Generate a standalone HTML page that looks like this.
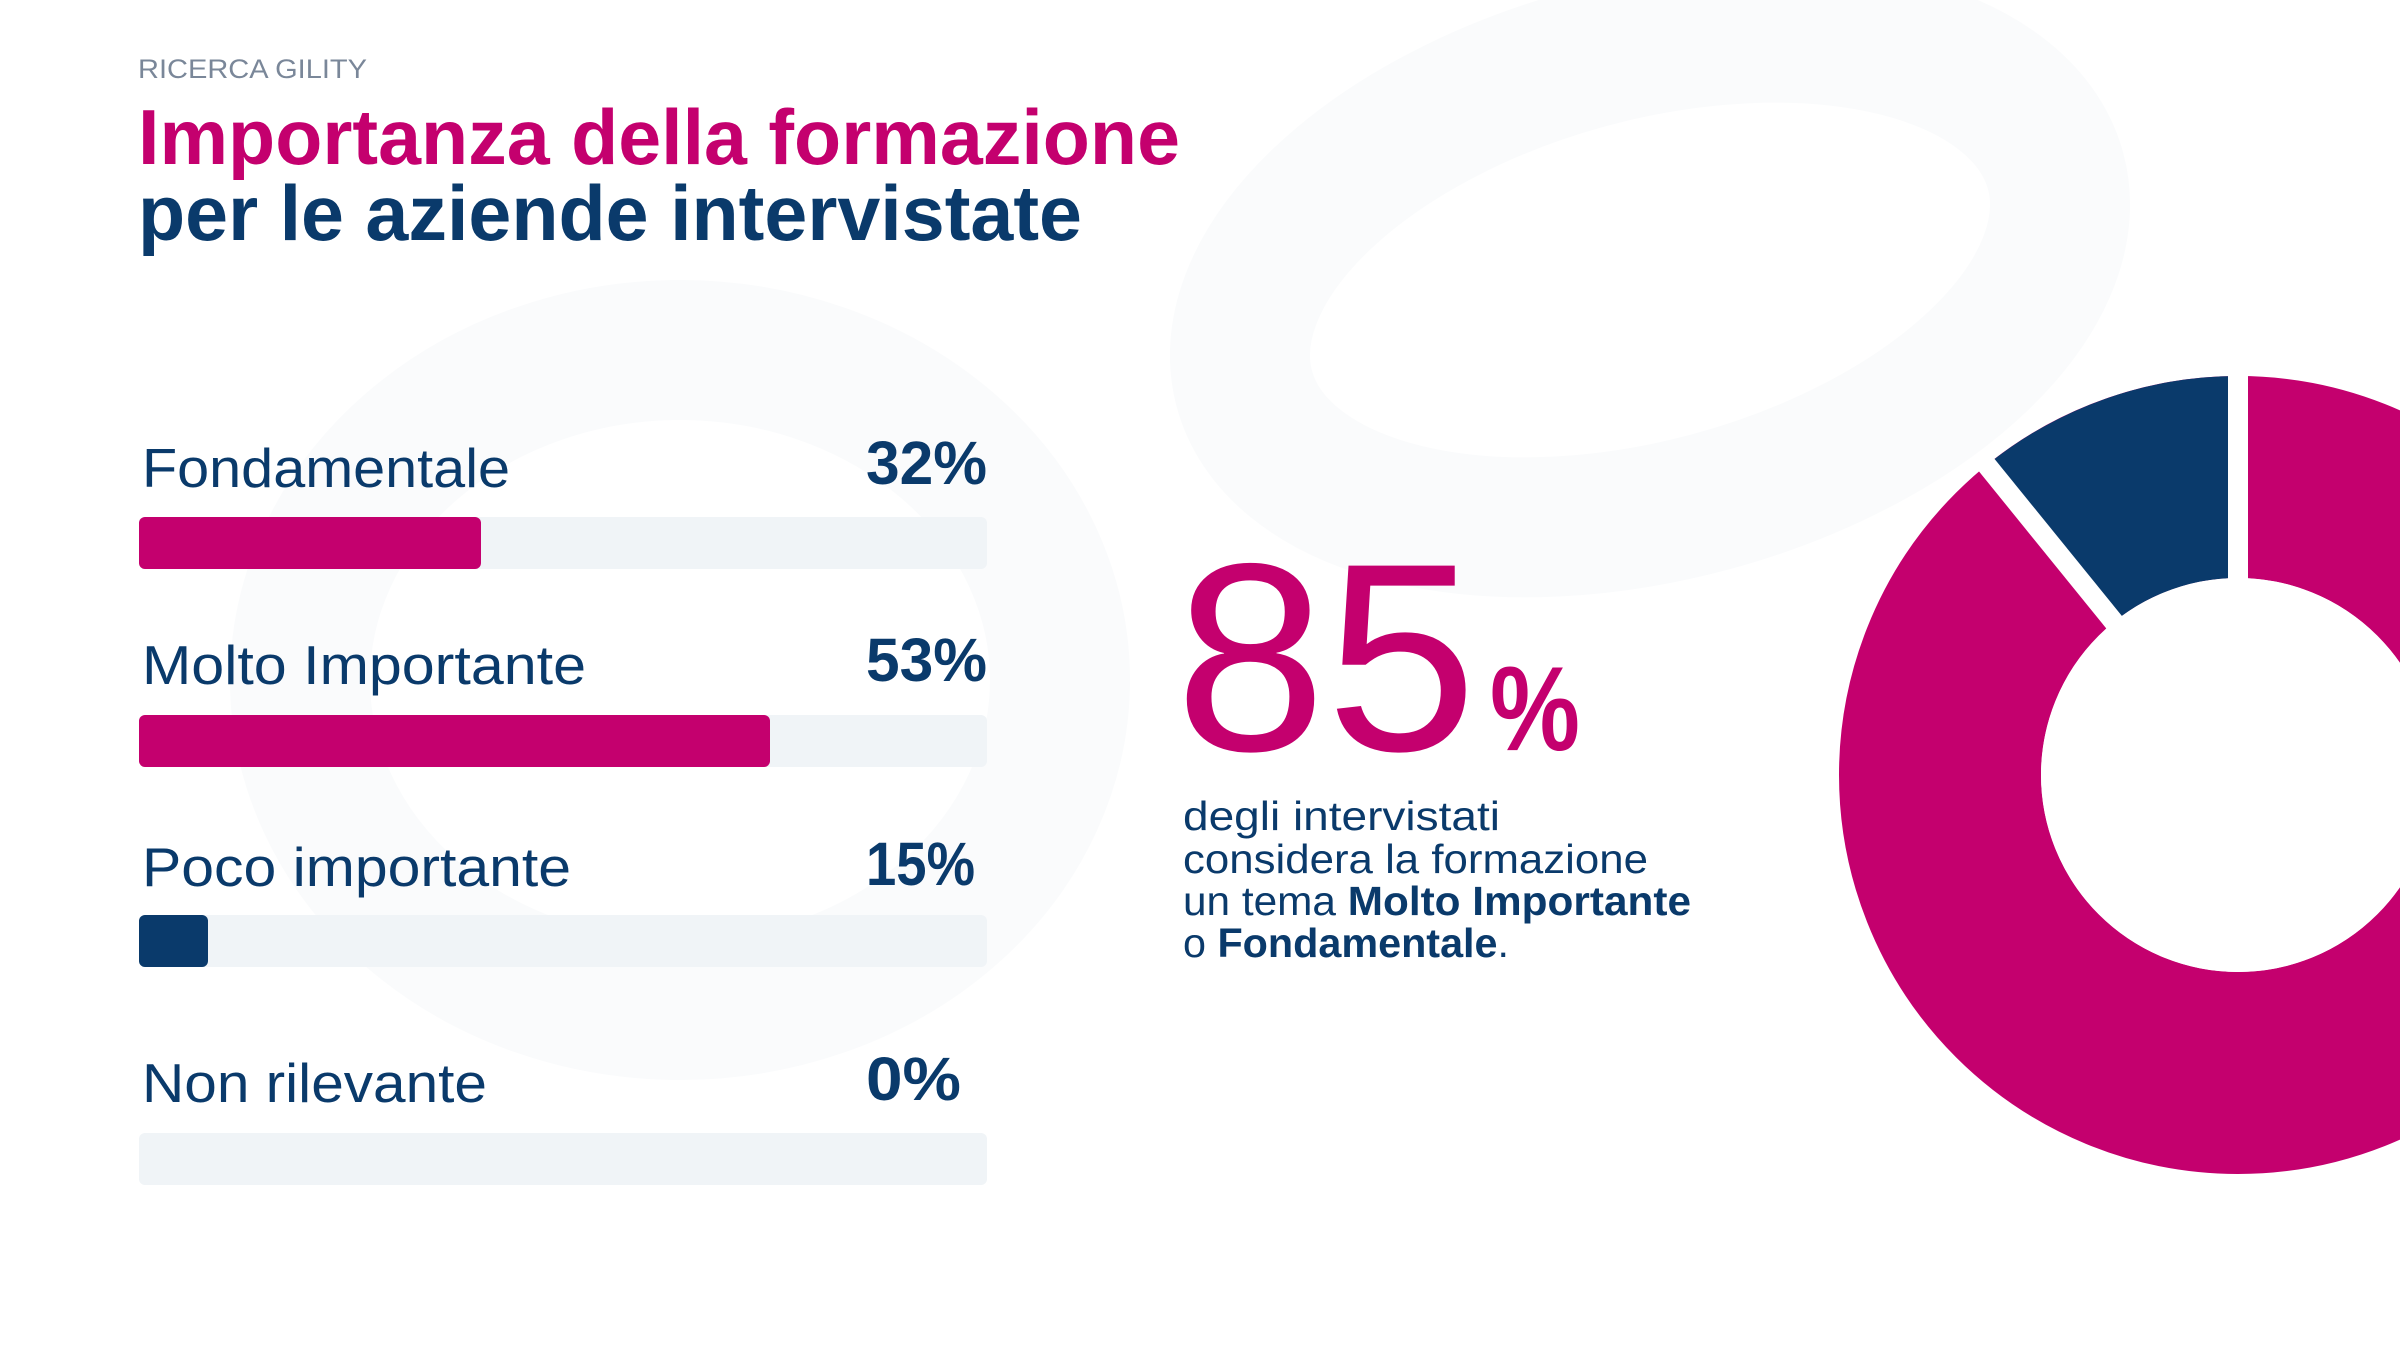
<!DOCTYPE html>
<html><head><meta charset="utf-8"><style>
html,body{margin:0;padding:0;background:#fff;width:2400px;height:1350px;overflow:hidden;}
svg{display:block;overflow:hidden;}
text{font-family:"Liberation Sans",sans-serif;}
</style></head><body>
<svg width="2400" height="1350" viewBox="0 0 2400 1350" xmlns="http://www.w3.org/2000/svg">
<defs><clipPath id="c"><rect width="2400" height="1350"/></clipPath></defs>
<g clip-path="url(#c)">
<rect width="2400" height="1350" fill="#ffffff"/>
<g fill="none" stroke="#fafbfc" stroke-width="140">
<ellipse cx="1650" cy="280" rx="420" ry="230" transform="rotate(-15 1650 280)"/>
<ellipse cx="680" cy="680" rx="380" ry="330"/>
</g>
<text x="138" y="78" font-size="27" fill="#7a8799" textLength="229" lengthAdjust="spacingAndGlyphs">RICERCA GILITY</text>
<text x="138" y="164" font-size="78" font-weight="bold" fill="#c4006e" textLength="1042" lengthAdjust="spacingAndGlyphs">Importanza della formazione</text>
<text x="138" y="240" font-size="78" font-weight="bold" fill="#0a3a6b" textLength="944" lengthAdjust="spacingAndGlyphs">per le aziende intervistate</text>

<g fill="#0a3a6b">
<text x="142" y="487" font-size="55" textLength="368" lengthAdjust="spacingAndGlyphs">Fondamentale</text>
<text x="142" y="684" font-size="55" textLength="444" lengthAdjust="spacingAndGlyphs">Molto Importante</text>
<text x="142" y="886" font-size="55" textLength="429" lengthAdjust="spacingAndGlyphs">Poco importante</text>
<text x="142" y="1102" font-size="55" textLength="345" lengthAdjust="spacingAndGlyphs">Non rilevante</text>
<text x="866" y="484" font-size="61" font-weight="bold" textLength="121" lengthAdjust="spacingAndGlyphs">32%</text>
<text x="866" y="681" font-size="61" font-weight="bold" textLength="121" lengthAdjust="spacingAndGlyphs">53%</text>
<text x="866" y="885" font-size="61" font-weight="bold" textLength="109" lengthAdjust="spacingAndGlyphs">15%</text>
<text x="866" y="1100" font-size="61" font-weight="bold" textLength="95" lengthAdjust="spacingAndGlyphs">0%</text>
</g>
<g>
<rect x="139" y="517" width="848" height="52" rx="6" fill="#f0f4f7"/>
<rect x="139" y="517" width="342" height="52" rx="6" fill="#c4006e"/>
<rect x="139" y="715" width="848" height="52" rx="6" fill="#f0f4f7"/>
<rect x="139" y="715" width="631" height="52" rx="6" fill="#c4006e"/>
<rect x="139" y="915" width="848" height="52" rx="6" fill="#f0f4f7"/>
<rect x="139" y="915" width="69" height="52" rx="6" fill="#0a3a6b"/>
<rect x="139" y="1133" width="848" height="52" rx="6" fill="#f0f4f7"/>
</g>

<text x="1175" y="750" font-size="268" fill="#c4006e" textLength="302" lengthAdjust="spacingAndGlyphs">85</text>
<text x="1490" y="750" font-size="120" font-weight="bold" fill="#c4006e" textLength="90" lengthAdjust="spacingAndGlyphs">%</text>

<g fill="#0a3a6b" font-size="41">
<text x="1183" y="830" textLength="317" lengthAdjust="spacingAndGlyphs">degli intervistati</text>
<text x="1183" y="873" textLength="465" lengthAdjust="spacingAndGlyphs">considera la formazione</text>
<text x="1183" y="915" textLength="508" lengthAdjust="spacingAndGlyphs">un tema <tspan font-weight="bold">Molto Importante</tspan></text>
<text x="1183" y="957" textLength="326" lengthAdjust="spacingAndGlyphs">o <tspan font-weight="bold">Fondamentale</tspan>.</text>
</g>

<circle cx="2238" cy="775" r="298" fill="none" stroke="#c4006e" stroke-width="202"/>
<path d="M1987,465 A399,399 0 0 1 2238,376 L2238,578 A197,197 0 0 0 2114,622 Z" fill="#0a3a6b"/>
<line x1="2238" y1="775" x2="2238" y2="374" stroke="#fff" stroke-width="20"/>
<line x1="2238" y1="775" x2="1985" y2="463" stroke="#fff" stroke-width="20"/>
<circle cx="2238" cy="775" r="197" fill="#fff"/>
</g>
</svg>
</body></html>
